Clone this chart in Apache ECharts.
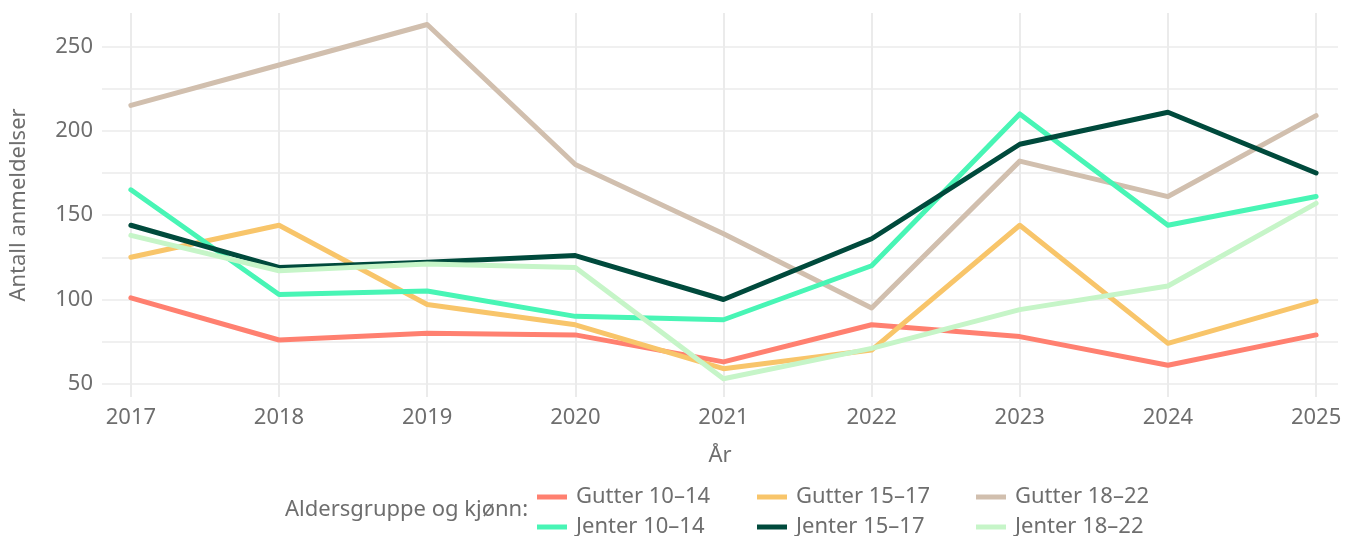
<!DOCTYPE html>
<html>
<head>
<meta charset="utf-8">
<script src="https://cdn.jsdelivr.net/npm/echarts@6/dist/echarts.min.js"></script>
<style>
  html, body { margin: 0; padding: 0; background: #fff; }
  #chart { width: 1356px; height: 536px; }
</style>
</head>
<body>
<div id="chart"></div>
<script>
// år og antall anmeldelser per gruppe
const years = [2017, 2018, 2019, 2020, 2021, 2022, 2023, 2024, 2025]
const gutter1014 = [101, 76, 80, 79, 63, 85, 78, 61, 79]
const gutter1517 = [125, 144, 97, 85, 59, 70, 144, 74, 99]
const gutter1822 = [215, 239, 263, 180, 139, 95, 182, 161, 209]
const jenter1014 = [165, 103, 105, 90, 88, 120, 210, 144, 161]
const jenter1517 = [144, 119, 122, 126, 100, 136, 192, 211, 175]
const jenter1822 = [138, 117, 121, 119, 53, 71, 94, 108, 157]
const yTicks = [50, 100, 150, 200, 250]
const yGrid = [50, 75, 100, 125, 150, 175, 200, 225, 250]

const names = ['Gutter 10–14', 'Gutter 15–17', 'Gutter 18–22', 'Jenter 10–14', 'Jenter 15–17', 'Jenter 18–22']
const values = [gutter1014, gutter1517, gutter1822, jenter1014, jenter1517, jenter1822]
const colors = ['#FF8070', '#F8C56A', '#D1BFAE', '#48F5B5', '#004A3C', '#C6F5C8']

const font = '"Noto Sans", sans-serif'
const grey = '#6e6e6e'
const gridColor = '#ebebeb'
const fs = 22

const series = names.map((name, i) => ({
  name,
  type: 'line',
  showSymbol: false,
  lineStyle: { width: 5, color: colors[i], cap: 'round', join: 'round' },
  itemStyle: { color: colors[i] },
  data: years.map((y, j) => [y, values[i][j]]),
}))

// en legende per element: 3 kolonner x 2 rader
const legendLeft = [537, 757, 976]
const legendTop = [484, 514]
const legends = names.map((name, i) => ({
  left: legendLeft[i % 3],
  top: legendTop[Math.floor(i / 3)],
  orient: 'horizontal',
  padding: 0,
  itemWidth: 30,
  itemHeight: 5,
  icon: 'rect',
  itemStyle: { color: colors[i] },
  data: [{ name, icon: 'rect' }],
  textStyle: { color: grey, fontSize: fs, fontFamily: font, lineHeight: 26, padding: [0, 0, 0, 4] },
}))

const chart = echarts.init(document.getElementById('chart'), null, { renderer: 'canvas' })
chart.setOption({
  animation: false,
  backgroundColor: '#fff',
  textStyle: { fontFamily: font },
  grid: { left: 100, right: 18, top: 13, bottom: 139 },
  xAxis: {
    type: 'value',
    min: 2016.805,
    max: 2025.148,
    name: 'År',
    nameLocation: 'middle',
    nameGap: 48,
    nameTextStyle: { color: grey, fontSize: fs, fontFamily: font },
    axisLine: { show: false },
    axisTick: { show: false, customValues: years },
    axisLabel: { customValues: years, color: grey, fontSize: fs, margin: 10, formatter: v => String(v) },
    splitLine: { show: true, lineStyle: { color: gridColor, width: 2 } },
  },
  yAxis: {
    type: 'value',
    min: 42.2,
    max: 269.8,
    name: 'Antall anmeldelser',
    nameLocation: 'middle',
    nameGap: 72,
    nameTextStyle: { color: grey, fontSize: fs, fontFamily: font },
    axisLine: { show: false },
    axisTick: { show: false, customValues: yGrid },
    axisLabel: { customValues: yTicks, color: grey, fontSize: fs, margin: 9 },
    splitLine: { show: true, lineStyle: { color: gridColor, width: 1.7 } },
  },
  legend: legends,
  graphic: [{
    type: 'text',
    left: 285,
    top: 499,
    style: { text: 'Aldersgruppe og kjønn:', fill: grey, font: fs + 'px ' + font },
  }],
  series,
})
</script>
</body>
</html>
